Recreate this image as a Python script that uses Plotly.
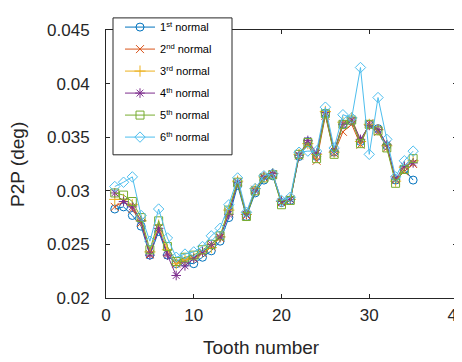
import plotly.graph_objects as go

teeth = list(range(1, 36))

s1 = [0.0283, 0.0285, 0.0277, 0.0267, 0.0240, 0.0262, 0.0240, 0.0232, 0.0233, 0.0232,
      0.0238, 0.0244, 0.0253, 0.0275, 0.0305, 0.0276, 0.0298, 0.0310, 0.0314, 0.0289,
      0.0291, 0.0332, 0.0346, 0.0332, 0.0372, 0.0336, 0.0362, 0.0365, 0.0346, 0.0362,
      0.0358, 0.0342, 0.0310, 0.0320, 0.0310]
s2 = [0.0285, 0.0290, 0.0283, 0.0270, 0.0241, 0.0265, 0.0242, 0.0232, 0.0235, 0.0237,
      0.0242, 0.0248, 0.0256, 0.0280, 0.0308, 0.0277, 0.0301, 0.0312, 0.0315, 0.0289,
      0.0292, 0.0333, 0.0343, 0.0328, 0.0370, 0.0335, 0.0355, 0.0362, 0.0343, 0.0363,
      0.0355, 0.0340, 0.0310, 0.0318, 0.0325]
s3 = [0.0292, 0.0292, 0.0287, 0.0272, 0.0243, 0.0268, 0.0245, 0.0232, 0.0236, 0.0238,
      0.0243, 0.0247, 0.0257, 0.0282, 0.0309, 0.0278, 0.0302, 0.0313, 0.0316, 0.0290,
      0.0292, 0.0334, 0.0344, 0.0334, 0.0374, 0.0336, 0.0364, 0.0368, 0.0346, 0.0362,
      0.0357, 0.0342, 0.0309, 0.0322, 0.0328]
s4 = [0.0298, 0.0290, 0.0285, 0.0272, 0.0240, 0.0265, 0.0240, 0.0221, 0.0230, 0.0237,
      0.0243, 0.0250, 0.0257, 0.0278, 0.0308, 0.0278, 0.0300, 0.0313, 0.0316, 0.0290,
      0.0292, 0.0333, 0.0347, 0.0335, 0.0373, 0.0337, 0.0362, 0.0366, 0.0348, 0.0361,
      0.0357, 0.0343, 0.0311, 0.0323, 0.0326]
s5 = [0.0298, 0.0296, 0.0290, 0.0275, 0.0245, 0.0272, 0.0248, 0.0234, 0.0238, 0.0240,
      0.0245, 0.0250, 0.0258, 0.0282, 0.0308, 0.0276, 0.0300, 0.0312, 0.0315, 0.0287,
      0.0291, 0.0334, 0.0345, 0.0330, 0.0372, 0.0334, 0.0362, 0.0366, 0.0344, 0.0362,
      0.0356, 0.0340, 0.0307, 0.0320, 0.0330]
s6 = [0.0304, 0.0308, 0.0313, 0.0277, 0.0253, 0.0283, 0.0256, 0.0238, 0.0241, 0.0243,
      0.0248, 0.0258, 0.0265, 0.0287, 0.0312, 0.0280, 0.0302, 0.0314, 0.0316, 0.0291,
      0.0294, 0.0336, 0.0337, 0.0337, 0.0378, 0.0340, 0.0371, 0.0368, 0.0415, 0.0334,
      0.0387, 0.0348, 0.0313, 0.0328, 0.0337]

names = ["1<sup>st</sup> normal", "2<sup>nd</sup> normal", "3<sup>rd</sup> normal",
         "4<sup>th</sup> normal", "5<sup>th</sup> normal", "6<sup>th</sup> normal"]
series = [s1, s2, s3, s4, s5, s6]
colors = ["#0072BD", "#D95319", "#EDB120", "#7E2F8E", "#77AC30", "#4DBEEE"]
symbols = ["circle-open", "x-thin-open", "cross-thin-open", "asterisk-open",
           "square-open", "diamond-open"]

xticks = [0, 10, 20, 30, 40]
yticks = [0.02, 0.025, 0.03, 0.035, 0.04, 0.045]
yticklabels = ["0.02", "0.025", "0.03", "0.035", "0.04", "0.045"]

FONT = "Liberation Sans, Arial, sans-serif"

# page body has an 8px default margin, so the figure div starts at (8, 8)
OFF = 8
W, H = 454, 354
ML, MR, MT, MB = 98, 5, 13, 64
PL, PT = OFF + ML, OFF + MT            # plot left / top in page pixels
PW, PH = W - ML - MR, H - MT - MB      # plot width / height


def px(x):
    return (x - PL) / PW


def py(y):
    return (PT + PH - y) / PH


fig = go.Figure()
for i, (name, ys, c, sym) in enumerate(zip(names, series, colors, symbols)):
    fig.add_trace(go.Scatter(
        x=teeth, y=ys, mode="lines+markers", name=name, legendgroup=f"g{i}",
        line=dict(color=c, width=1),
        marker=dict(symbol=sym, size=8, color=c, line=dict(color=c, width=1)),
    ))

axis_common = dict(
    showline=True, linecolor="#262626", linewidth=1, mirror="allticks",
    ticks="inside", ticklen=4, tickcolor="#262626", showgrid=False, zeroline=False,
    automargin=False, ticklabeloverflow="allow",
    tickfont=dict(family=FONT, size=17, color="#262626"),
)

fig.update_layout(
    width=W, height=H,
    margin=dict(l=ML, r=MR, t=MT, b=MB),
    paper_bgcolor="white", plot_bgcolor="white",
    font=dict(family=FONT, color="#262626"),
    xaxis=dict(range=[0, 40], tickvals=xticks, ticklabelstandoff=2, **axis_common),
    yaxis=dict(range=[0.02, 0.045], tickvals=yticks, ticktext=yticklabels,
               ticklabelstandoff=12, **axis_common),
    legend=dict(x=px(120), y=py(3), xanchor="left", yanchor="top",
                bgcolor="rgba(0,0,0,0)", borderwidth=0,
                tracegroupgap=3,
                font=dict(family=FONT, size=11, color="#000000"), itemwidth=30),
    showlegend=True,
    shapes=[
        dict(type="rect", xref="paper", yref="paper",
             x0=px(113), x1=px(232), y0=py(150), y1=py(8.5),
             line=dict(color="#262626", width=1), fillcolor="white", layer="above"),
    ],
    annotations=[
        dict(text="Tooth number", xref="paper", yref="paper",
             x=px(261), y=py(349), xanchor="center", yanchor="middle",
             showarrow=False, font=dict(family=FONT, size=19, color="#262626")),
        dict(text="P2P (deg)", xref="paper", yref="paper",
             x=px(17), y=0.5, xanchor="center", yanchor="middle", textangle=-90,
             showarrow=False, font=dict(family=FONT, size=19, color="#262626")),
    ],
)

fig.write_html("out.html")
